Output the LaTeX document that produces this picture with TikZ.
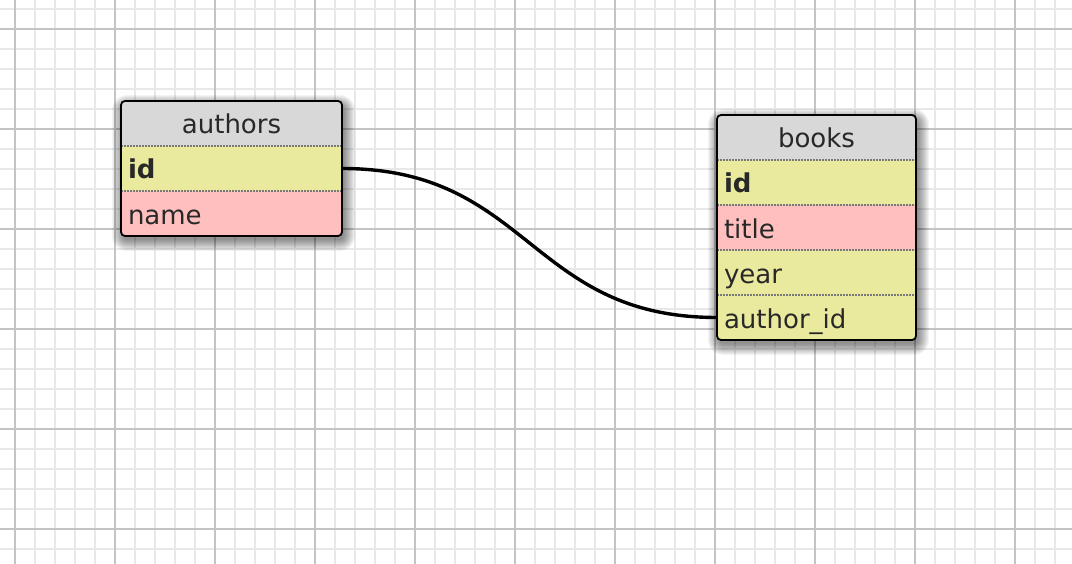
\documentclass[tikz,border=0pt]{standalone}
\usepackage{fontspec}
\setmainfont{DejaVu Sans}
\definecolor{hdr}{RGB}{216,216,216}
\definecolor{yel}{RGB}{234,234,158}
\definecolor{pnk}{RGB}{255,191,191}
\definecolor{txt}{RGB}{40,40,40}
\definecolor{gridminor}{RGB}{232,232,232}
\definecolor{gridmajor}{RGB}{196,196,196}
\definecolor{sep}{RGB}{120,120,120}
\tikzset{
  rowbox/.style={draw=none, anchor=north west, minimum height=45bp, inner xsep=7bp, inner ysep=0pt,
    text height=24bp, text depth=3bp, font=\fontsize{26bp}{30bp}\selectfont, text=txt, outer sep=0pt},
  hdrbox/.style={rowbox, fill=hdr, align=center},
  pkrow/.style={rowbox, fill=yel, align=left, font=\fontsize{26bp}{30bp}\selectfont\bfseries},
  yrow/.style={rowbox, fill=yel, align=left},
  prow/.style={rowbox, fill=pnk, align=left},
  shadowlayer/.style={fill=black, opacity=0.045},
  tframe/.style={draw=black, line width=1.8bp, rounded corners=4bp},
  sepline/.style={draw=sep, line width=1.2bp, dash pattern=on 1.5bp off 1.5bp},
  link/.style={draw=black, line width=3.4bp}
}
\begin{document}
\begin{tikzpicture}[x=1bp,y=-1bp]
\useasboundingbox (0,0) rectangle (1072,564);
\fill[white] (0,0) rectangle (1072,564);
% grid
\foreach \x in {-5,15,...,1075} \draw[gridminor, line width=2bp] (\x,0) -- (\x,564);
\foreach \y in {9,29,...,569} \draw[gridminor, line width=2bp] (0,\y) -- (1072,\y);
\foreach \x in {15,115,...,1015} \draw[gridmajor, line width=2.2bp] (\x,0) -- (\x,564);
\foreach \y in {29,129,...,529} \draw[gridmajor, line width=2.2bp] (0,\y) -- (1072,\y);

% shadows
\foreach \r in {0,1,...,11} {
  \fill[shadowlayer, rounded corners=4bp+\r bp] (123-\r,106-\r) rectangle (344+\r,240+\r);
  \fill[shadowlayer, rounded corners=4bp+\r bp] (719-\r,120-\r) rectangle (918+\r,344+\r);
}

% authors table
\fill[white, rounded corners=4bp] (121,101) rectangle (342,236);
\begin{scope}
\clip[rounded corners=4bp] (121,101) rectangle (342,236);
\node[hdrbox, text width=207bp] (ahdr) at (121,101) {authors};
\node[pkrow, text width=207bp] (aid) at (121,146) {id};
\node[prow, text width=207bp] (aname) at (121,191) {name};
\end{scope}
\draw[sepline] (ahdr.south west) -- (ahdr.south east);
\draw[sepline] (aid.south west) -- (aid.south east);
\draw[tframe] (121,101) rectangle (342,236);

% books table
\fill[white, rounded corners=4bp] (717,115) rectangle (916,340);
\begin{scope}
\clip[rounded corners=4bp] (717,115) rectangle (916,340);
\node[hdrbox, text width=185bp] (bhdr) at (717,115) {books};
\node[pkrow, text width=185bp] (bid) at (717,160) {id};
\node[prow, text width=185bp] (btitle) at (717,205) {title};
\node[yrow, text width=185bp] (byear) at (717,250) {year};
\node[yrow, text width=185bp] (baid) at (717,295) {author\_id};
\end{scope}
\draw[sepline] (bhdr.south west) -- (bhdr.south east);
\draw[sepline] (bid.south west) -- (bid.south east);
\draw[sepline] (btitle.south west) -- (btitle.south east);
\draw[sepline] (byear.south west) -- (byear.south east);
\draw[tframe] (717,115) rectangle (916,340);

% relation
\draw[link] (aid.east) .. controls +(187.5,0) and +(-187.5,0) .. (baid.west);
\end{tikzpicture}
\end{document}
